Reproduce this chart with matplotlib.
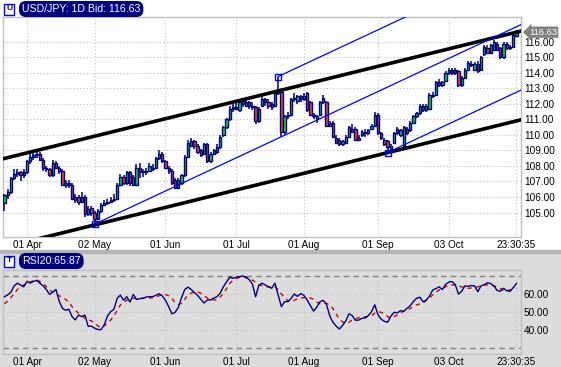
import matplotlib
matplotlib.use('Agg')
import matplotlib.pyplot as plt
import matplotlib.transforms as mtransforms
from matplotlib.patches import Rectangle
import numpy as np
import pandas as pd

# daily USD/JPY bars, 23 Mar 2005 .. 01 Nov 2005
first_day = '2005-03-23'
opens = [105.6, 106.1, 106.3, 107.2, 107.5, 107.6, 107.4, 107.6, 108.3, 108.6,
         108.7, 108.8, 108.4, 107.9, 107.8, 107.4, 108.2, 107.9, 107.7, 106.8,
         106.9, 106.8, 105.8, 106.0, 105.7, 106.0, 104.9, 105.3, 105.0, 104.6,
         105.1, 105.5, 105.6, 105.7, 105.8, 105.9, 106.8, 107.3, 106.9, 107.6,
         107.3, 106.8, 107.9, 107.7, 107.6, 107.7, 107.8, 107.9, 108.5, 108.8,
         108.3, 107.9, 107.7, 107.1, 106.6, 106.9, 107.4, 108.6, 109.3, 109.6,
         109.3, 109.0, 108.8, 109.4, 108.3, 108.8, 108.9, 109.2, 110.0, 110.5,
         111.0, 111.8, 111.7, 111.6, 112.2, 111.9, 112.1, 111.9, 111.8, 110.9,
         111.9, 112.3, 112.1, 112.0, 111.9, 112.7, 112.8, 110.2, 111.2, 111.3,
         112.3, 112.2, 112.5, 112.3, 112.7, 112.1, 111.3, 111.0, 111.3, 112.4,
         112.1, 110.8, 110.8, 109.8, 109.7, 109.4, 109.5, 109.9, 110.4, 110.4,
         109.7, 110.0, 110.2, 110.1, 110.4, 110.6, 111.3, 110.1, 109.7, 109.6,
         109.1, 109.5, 110.4, 110.0, 109.3, 110.4, 110.3, 110.8, 111.2, 111.4,
         111.9, 111.6, 111.7, 112.5, 112.6, 113.4, 113.2, 113.5, 114.0, 114.2,
         114.2, 114.1, 113.2, 113.7, 114.2, 114.6, 114.2, 114.6, 114.2, 115.2,
         115.6, 115.3, 115.5, 115.9, 115.6, 115.0, 115.9, 115.6, 115.7, 116.4]
highs = [106.2, 106.5, 107.3, 107.8, 107.8, 107.7, 107.8, 108.4, 108.9, 108.9,
         109.0, 108.9, 108.5, 108.0, 107.9, 108.4, 108.3, 108.0, 107.8, 107.1,
         107.1, 106.9, 106.2, 106.1, 106.3, 106.1, 105.4, 105.4, 105.1, 105.2,
         105.6, 105.8, 105.9, 106.0, 106.2, 106.9, 107.5, 107.4, 107.7, 107.7,
         107.4, 108.1, 108.2, 107.8, 107.9, 108.2, 108.1, 108.6, 109.0, 108.9,
         108.4, 108.0, 107.8, 107.2, 107.2, 107.5, 108.7, 109.7, 109.8, 109.7,
         109.4, 109.1, 109.5, 109.5, 108.9, 109.1, 109.4, 110.0, 110.6, 111.1,
         111.9, 112.0, 112.1, 112.3, 112.4, 112.3, 112.2, 112.1, 111.9, 111.8,
         112.5, 112.4, 112.3, 112.1, 112.9, 113.77, 112.9, 111.3, 111.5, 112.4,
         112.7, 112.6, 112.6, 112.7, 112.8, 112.2, 111.4, 111.3, 112.2, 112.6,
         112.2, 110.9, 110.9, 110.0, 109.8, 109.7, 110.0, 110.6, 110.7, 110.5,
         110.0, 110.3, 110.4, 110.4, 110.7, 111.5, 111.4, 110.2, 109.8, 109.7,
         109.4, 110.2, 110.5, 110.4, 110.6, 110.5, 110.9, 111.3, 111.5, 112.0,
         112.0, 112.0, 112.7, 112.8, 113.5, 113.6, 113.5, 114.1, 114.3, 114.3,
         114.3, 114.2, 113.8, 114.3, 114.8, 114.8, 114.7, 114.8, 115.1, 115.8,
         115.8, 115.9, 116.1, 116.0, 115.7, 116.0, 116.0, 115.8, 116.5, 116.8]
lows = [105.1, 105.9, 106.2, 107.1, 107.3, 107.0, 107.2, 107.5, 108.1, 108.4,
        108.5, 108.3, 107.7, 107.6, 107.3, 107.3, 107.8, 107.5, 106.7, 106.6,
        106.6, 105.8, 105.6, 105.5, 105.6, 104.7, 104.8, 104.8, 104.25, 104.5,
        105.0, 105.4, 105.5, 105.6, 105.7, 105.8, 106.7, 106.8, 106.8, 106.7,
        106.7, 106.8, 107.2, 107.3, 107.4, 107.6, 107.7, 107.8, 108.4, 108.2,
        107.8, 107.5, 106.8, 106.5, 106.5, 106.8, 107.3, 108.5, 109.2, 109.1,
        108.8, 108.6, 108.7, 108.2, 108.2, 108.7, 108.8, 109.1, 109.9, 110.4,
        110.9, 111.5, 111.6, 111.5, 111.8, 111.8, 111.7, 111.6, 110.7, 110.8,
        111.8, 111.9, 111.7, 111.6, 111.8, 112.6, 109.9, 110.0, 111.0, 111.2,
        112.1, 112.0, 112.1, 112.2, 111.5, 111.2, 111.0, 110.8, 111.2, 112.0,
        110.5, 110.5, 109.8, 109.4, 109.3, 109.3, 109.4, 109.8, 110.1, 109.6,
        109.6, 109.9, 109.9, 110.0, 110.3, 110.5, 110.0, 109.7, 109.3, 108.9,
        109.0, 109.4, 110.0, 109.9, 109.2, 110.0, 110.2, 110.7, 111.1, 111.3,
        111.5, 111.5, 111.6, 112.4, 112.5, 113.1, 113.1, 113.4, 113.9, 113.9,
        113.9, 113.1, 113.1, 113.6, 114.1, 114.4, 114.1, 114.0, 114.1, 115.1,
        115.2, 115.2, 115.4, 115.4, 114.9, 114.9, 115.5, 115.5, 115.6, 116.3]
closes = [106.1, 106.3, 107.2, 107.5, 107.6, 107.4, 107.6, 108.3, 108.6, 108.7,
          108.8, 108.4, 107.9, 107.8, 107.4, 108.2, 107.9, 107.7, 106.8, 106.9,
          106.8, 105.9, 106.0, 105.7, 106.0, 104.9, 105.2, 105.0, 104.6, 105.1,
          105.5, 105.6, 105.7, 105.8, 105.9, 106.8, 107.3, 106.9, 107.6, 106.9,
          106.8, 107.9, 107.6, 107.6, 107.7, 108.0, 107.9, 108.5, 108.8, 108.3,
          107.9, 107.7, 106.9, 106.6, 107.1, 107.4, 108.6, 109.5, 109.6, 109.3,
          108.9, 108.7, 109.4, 108.3, 108.8, 109.0, 109.2, 109.9, 110.5, 111.0,
          111.7, 111.7, 111.8, 112.1, 112.0, 112.1, 111.9, 111.8, 110.9, 111.7,
          112.3, 112.1, 111.9, 111.8, 112.7, 112.8, 110.2, 111.2, 111.3, 112.3,
          112.4, 112.5, 112.3, 112.5, 111.6, 111.3, 111.2, 111.2, 112.1, 112.1,
          110.6, 110.6, 109.9, 109.5, 109.4, 109.6, 109.9, 110.5, 110.2, 109.7,
          109.8, 110.2, 110.1, 110.3, 110.6, 111.3, 110.1, 109.8, 109.4, 109.2,
          109.3, 110.1, 110.1, 110.3, 110.5, 110.1, 110.8, 111.2, 111.4, 111.9,
          111.6, 111.9, 112.6, 112.6, 113.4, 113.2, 113.4, 114.0, 114.2, 114.0,
          114.0, 113.2, 113.7, 114.2, 114.65, 114.5, 114.6, 114.1, 115.0, 115.7,
          115.3, 115.8, 116.0, 115.5, 115.0, 115.9, 115.6, 115.7, 116.45, 116.63]

rsi = [58.5, 59.5, 61.0, 64.5, 66.0, 65.0, 64.0, 67.0, 66.0, 67.0,
       67.5, 66.0, 64.5, 62.5, 59.8, 61.0, 62.5, 56.0, 52.0, 51.0,
       51.5, 47.4, 45.6, 48.3, 47.4, 48.3, 42.0, 42.2, 41.0, 40.3,
       40.2, 43.0, 47.8, 50.2, 51.5, 57.6, 59.4, 56.5, 58.5, 55.5,
       59.8, 57.0, 57.4, 57.6, 58.3, 58.5, 58.5, 59.2, 60.2, 59.0,
       56.5, 53.0, 49.0, 49.8, 52.5, 58.0, 62.5, 63.8, 62.5, 60.8,
       59.2, 57.0, 55.0, 56.7, 56.7, 57.7, 58.5, 60.5, 64.0, 66.8,
       69.4, 68.7, 69.4, 69.6, 70.0, 69.5, 68.0, 65.5, 58.5, 64.8,
       66.0, 65.0, 64.0, 63.2, 66.0, 59.4, 53.0, 55.7, 55.8, 57.5,
       60.0, 58.7, 60.2, 59.2, 56.7, 53.5, 50.5, 52.7, 55.7, 56.5,
       54.3, 48.0, 44.3, 42.2, 40.6, 42.5, 45.0, 49.0, 48.0, 45.4,
       45.5, 46.5, 46.7, 48.0, 50.2, 54.0, 48.5, 46.0, 44.8, 44.3,
       47.7, 49.8, 49.5, 50.7, 50.4, 52.0, 53.5, 55.8, 57.6, 58.2,
       55.7, 56.6, 58.8, 62.2, 63.0, 64.0, 62.4, 65.3, 66.6, 66.9,
       65.2, 60.0, 61.5, 64.5, 64.3, 64.7, 64.5, 61.3, 64.5, 65.2,
       66.2, 65.8, 64.5, 62.0, 61.5, 63.2, 61.8, 61.5, 63.5, 65.87]
rsi_signal = [54.5, 56.3, 58.0, 60.0, 62.5, 64.0, 65.0, 66.0, 66.7, 67.4,
              67.8, 67.0, 66.0, 64.0, 62.2, 61.0, 60.0, 59.0, 58.0, 57.0,
              55.5, 53.0, 51.0, 49.3, 48.0, 46.6, 45.8, 45.0, 44.0, 42.3,
              41.2, 42.3, 43.9, 45.5, 47.8, 50.8, 53.9, 55.3, 56.6, 57.0,
              57.6, 57.6, 57.6, 57.6, 57.6, 57.7, 58.0, 58.4, 59.0, 59.8,
              59.7, 59.0, 57.5, 55.2, 54.2, 54.8, 57.0, 59.5, 60.5, 61.0,
              61.2, 60.4, 59.0, 57.8, 56.7, 56.7, 56.8, 58.4, 60.2, 63.0,
              66.0, 67.5, 68.6, 69.2, 69.6, 69.0, 68.4, 67.7, 66.5, 65.0,
              64.6, 64.2, 64.0, 64.0, 63.8, 62.5, 60.0, 58.0, 56.2, 55.7,
              56.5, 57.3, 57.6, 58.0, 58.0, 57.8, 57.0, 55.5, 54.6, 54.6,
              54.8, 54.0, 52.0, 49.0, 46.0, 44.5, 43.8, 44.3, 45.6, 46.2,
              46.8, 47.3, 47.4, 47.4, 48.0, 49.3, 50.2, 49.8, 49.0, 47.5,
              46.6, 47.5, 48.3, 49.5, 50.4, 51.2, 52.0, 53.0, 53.9, 54.5,
              55.0, 56.5, 57.7, 59.5, 61.0, 62.2, 63.0, 64.0, 65.0, 65.0,
              65.0, 64.5, 64.0, 63.6, 63.1, 63.4, 63.8, 64.0, 64.5, 65.0,
              65.0, 65.0, 64.5, 64.0, 63.0, 62.2, 62.2, 62.2, 62.7, 63.2]

month_starts = ['2005-04-01', '2005-05-02', '2005-06-01', '2005-07-01',
                '2005-08-01', '2005-09-01', '2005-10-03']
last_label = '23:30:35'
last_price = 116.63

# channel anchors (bar number, price)
black_low_pts = [(28, 104.2), (119, 108.86)]
black_high_pt = (10, 109.0)
blue_mid_pts = [(28, 104.25), (159, 116.98)]
blue_high_pt = (85, 113.77)
blue_low_pt = (119, 108.87)

plt.rcParams['font.family'] = ['Liberation Sans', 'DejaVu Sans']
fs = 7.2

n = len(closes)
dates = pd.bdate_range(first_day, periods=n)
idx = np.arange(n)
O = np.array(opens); H = np.array(highs); L = np.array(lows); C = np.array(closes)

W, Hh = 561, 367
fig = plt.figure(figsize=(W / 100, Hh / 100), dpi=100)
fig.patch.set_facecolor('white')
fig.patches.append(Rectangle((0, 0), 1, 114 / Hh, transform=fig.transFigure,
                             color='#dcdcdc', zorder=-10))
fig.patches.append(Rectangle((0, 114 / Hh), 1, 3 / Hh, transform=fig.transFigure,
                             color='#b4b4b4', zorder=-9))

ax = fig.add_axes([3 / W, 130 / Hh, 518 / W, 220 / Hh])
ax2 = fig.add_axes([3 / W, 13 / Hh, 518 / W, 84 / Hh])

xmin, xmax = -0.45, 160.42
tick_pos = [dates.get_loc(pd.Timestamp(d)) for d in month_starts] + [n - 1]
tick_lab = [pd.Timestamp(d).strftime('%d %b') for d in month_starts] + [last_label]

for a in (ax, ax2):
    a.set_xlim(xmin, xmax)
    a.set_xticks(tick_pos)
    a.set_xticklabels(tick_lab)
    a.yaxis.tick_right()
    a.tick_params(length=0, pad=2, labelsize=fs)
    a.grid(True, color='#c0c0c0', ls=(0, (1, 2)), lw=0.8)
    a.set_axisbelow(True)
    for s in a.spines.values():
        s.set_color('#c0c0c0')
        s.set_linewidth(1)

# --- price panel
ax.set_ylim(103.42, 117.61)
ax.set_yticks(range(105, 117))
ax.set_yticklabels([f'{v:.2f}' for v in range(105, 117)])

ax.vlines(idx, L, H, color='#000080', lw=1.1, zorder=3)
up = C >= O
body_col = np.where(up, '#10e010', '#f04a1a')
ax.bar(idx, np.abs(C - O), bottom=np.minimum(O, C), width=0.72, color=body_col,
       edgecolor='#000080', linewidth=1.0, zorder=4)

# black channel
(bx0, by0), (bx1, by1) = black_low_pts
kb = (by1 - by0) / (bx1 - bx0)
xs = np.array([xmin, xmax])
ax.plot(xs, by0 + kb * (xs - bx0), color='black', lw=2.6, zorder=5)
ax.plot(xs, black_high_pt[1] + kb * (xs - black_high_pt[0]), color='black', lw=2.6, zorder=5)

# blue channel
(mx0, my0), (mx1, my1) = blue_mid_pts
kc = (my1 - my0) / (mx1 - mx0)
for px, py in [(mx0, my0), blue_high_pt, blue_low_pt]:
    ax.plot([px, xmax], [py, py + kc * (xmax - px)], color='#0000ff', lw=0.9, zorder=6)
    ax.plot(px, py, marker='s', ms=4.5, mfc='none', mec='#0000ff', mew=1, zorder=7)

trans = mtransforms.blended_transform_factory(ax.transAxes, ax.transData)
ax.text(1 + 8 / 518, last_price, f'{last_price:.2f}', transform=trans, color='white',
        ha='left', va='center', fontsize=6.8,
        bbox=dict(boxstyle='larrow,pad=0.12', fc='#808080', ec='none'))

# --- RSI panel
ax2.set_facecolor('#dcdcdc')
ax2.set_ylim(26.67, 73.33)
ax2.set_yticks([40, 50, 60])
ax2.set_yticklabels(['40.00', '50.00', '60.00'])
for lvl in (70, 30):
    ax2.axhline(lvl, color='#808080', lw=1, ls=(0, (4, 3)), zorder=2)
ax2.plot(idx, rsi_signal, color='#cc0000', lw=1, ls=(0, (3, 3)), zorder=3)
ax2.plot(idx, rsi, color='#000080', lw=1, zorder=4)

# headers
def header(y_px, label, glyph):
    fig.patches.append(Rectangle((4 / W, 1 - (y_px + 6) / Hh), 10 / W, 11 / Hh,
                                 transform=fig.transFigure, fc='white', ec='#0000ff', lw=1))
    fig.text(9 / W, 1 - y_px / Hh, glyph, color='#000080', ha='center', va='center',
             fontsize=6, fontweight='bold')
    fig.text(22 / W, 1 - y_px / Hh, label, color='white', ha='left', va='center',
             fontsize=7.6, bbox=dict(boxstyle='round,pad=0.22,rounding_size=0.6',
                                     fc='#000080', ec='#000080'))

header(9, f'USD/JPY: 1D Bid: {last_price:.2f}', 'Ū')
header(261, f'RSI20:{rsi[-1]:.2f}', 'T')

fig.savefig('out.png', dpi=100)
